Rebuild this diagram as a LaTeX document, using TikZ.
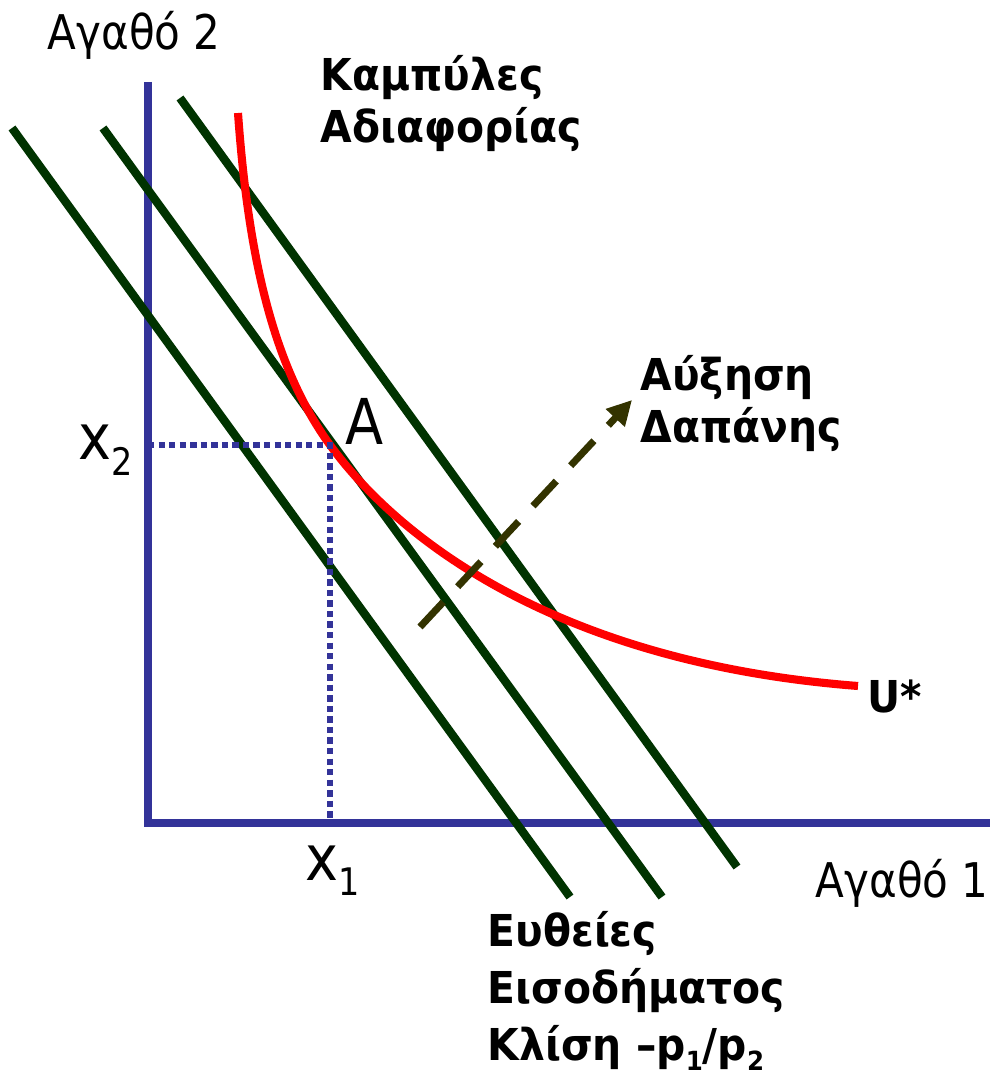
\documentclass[tikz,border=0pt]{standalone}
\usepackage{graphicx}
\usepackage{fontspec}
\setmainfont{DejaVu Sans}
\newfontfamily\narrowfont[FakeStretch=0.88]{DejaVu Sans}
\newfontfamily\notefont[FakeStretch=0.93]{DejaVu Sans}
\usetikzlibrary{arrows.meta}

\definecolor{axisblue}{RGB}{51,51,153}
\definecolor{budgetgreen}{RGB}{0,51,0}
\definecolor{shiftolive}{RGB}{51,51,0}

\newcommand{\lowidx}[1]{\raisebox{-0.25em}{\scalebox{0.6}{#1}}}

\begin{document}
\begin{tikzpicture}[
  >=Triangle,
  axis/.style={draw=axisblue, line width=2pt},
  budget/.style={draw=budgetgreen, line width=2.4pt},
  indiff/.style={draw=red, line width=2.3pt},
  guide/.style={draw=axisblue, line width=1.8pt, dash pattern=on 1.8pt off 1.2pt},
  spendarrow/.style={draw=shiftolive, line width=2pt, dash pattern=on 9.7pt off 6pt,
    -{Triangle[length=7pt, width=7pt]}},
  axlbl/.style={font=\narrowfont\fontsize{13.6pt}{16pt}\selectfont,
    inner sep=0pt, anchor=base west},
  ptlbl/.style={font=\narrowfont\fontsize{18pt}{20pt}\selectfont,
    inner sep=0pt, anchor=base west},
  note/.style={font=\notefont\bfseries\fontsize{12.5pt}{#1}\selectfont,
    align=left, inner sep=0pt, anchor=base west},
  note/.default={15pt},
]
\useasboundingbox (0,0) rectangle (9.9,10.73);

% --- axes ---
\coordinate (O)    at (1.48, 2.50);
\coordinate (ytop) at (1.48, 9.91);
\coordinate (xend) at (9.90, 2.50);
\draw[axis] (ytop) -- (O) -- (xend);

\node[axlbl] (good2) at (0.47, 10.23) {Αγαθό 2};
\node[axlbl] (good1) at (8.15, 1.75) {Αγαθό 1};

% --- budget lines ---
\coordinate (b1s) at (0.12, 9.45);
\coordinate (b1e) at (5.70, 1.76);
\coordinate (b2s) at (1.03, 9.45);
\coordinate (b2e) at (6.62, 1.76);
\coordinate (b3s) at (1.80, 9.75);
\coordinate (b3e) at (7.37, 2.06);
\draw[budget] (b1s) -- (b1e);
\draw[budget] (b2s) -- (b2e);
\draw[budget] (b3s) -- (b3e);

% --- indifference curve through A ---
\coordinate (A)    at (3.30, 6.28);
\coordinate (utop) at (2.38, 9.60);
\coordinate (uend) at (8.58, 3.87);
\draw[indiff] (utop) .. controls (2.48,8.20) and (2.72,7.08) .. (A)
  .. controls (4.00,5.32) and (5.60,4.10) .. (uend);

% --- optimum A ---
\coordinate (Ay) at (1.48, 6.28);
\coordinate (Ax) at (3.30, 2.50);
\draw[guide] (Ay) -- (A) -- (Ax);

\node[ptlbl] (lblA)  at (3.45, 6.28) {A};
\node[ptlbl] (lblx2) at (0.78, 6.13) {x\lowidx{2}};
\node[ptlbl] (lblx1) at (3.05, 1.93) {x\lowidx{1}};

% --- spending increase ---
\coordinate (s0) at (4.20, 4.46);
\coordinate (s1) at (6.32, 6.73);
\draw[spendarrow] (s0) -- (s1);

\node[note] (spend)  at (6.40, 6.30) {Αύξηση\\Δαπάνης};
\node[note] (ustar)  at (8.67, 3.60) {U*};
\node[note] (curves) at (3.20, 9.30) {Καμπύλες\\Αδιαφορίας};
\node[note=16.2pt] (lines) at (4.87, 0.13)
  {Ευθείες\\Εισοδήματος\\Κλίση –p\lowidx{1}/p\lowidx{2}};

\end{tikzpicture}
\end{document}
